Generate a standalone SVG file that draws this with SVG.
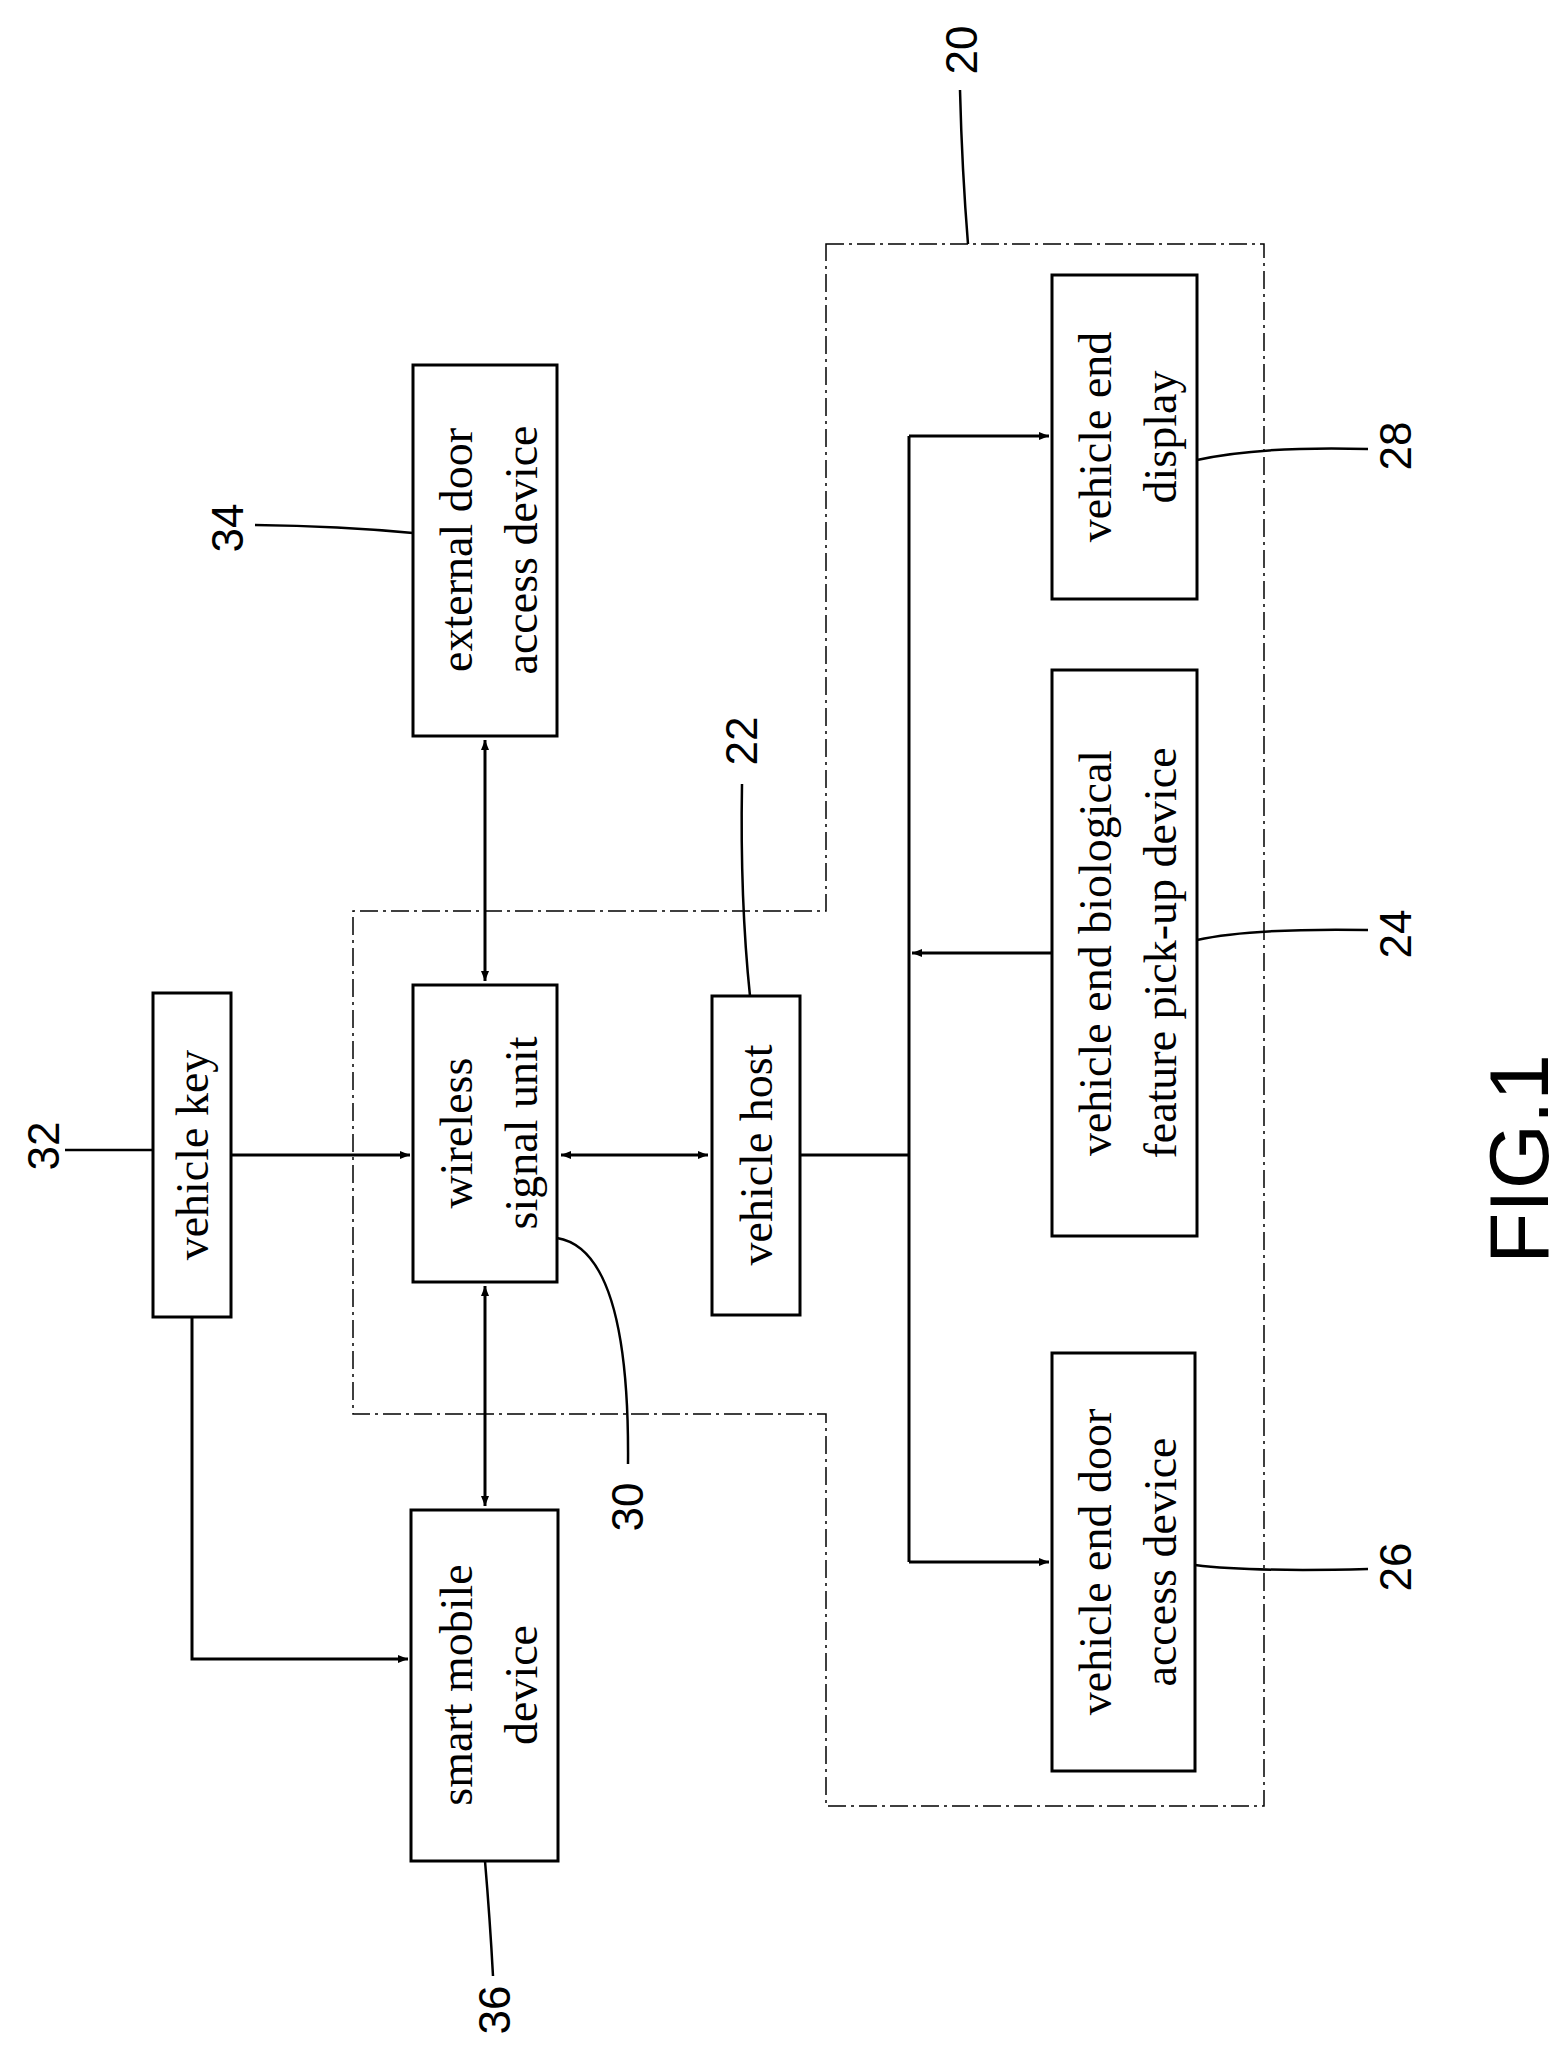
<svg xmlns="http://www.w3.org/2000/svg" width="1568" height="2056" viewBox="0 0 1568 2056">
<style>
.b{fill:#fff;stroke:#000;stroke-width:3}
.t{font-family:"Liberation Serif",serif;font-size:46px;text-anchor:middle}
.n{font-family:"Liberation Sans",sans-serif;font-size:44px;text-anchor:middle}
.c{fill:none;stroke:#000;stroke-width:3}
.l{fill:none;stroke:#000;stroke-width:2.5}
</style>
<defs>
<marker id="a" viewBox="0 0 10 10" refX="10" refY="5" markerWidth="10" markerHeight="10" markerUnits="userSpaceOnUse" orient="auto-start-reverse"><path d="M0,1 L10,5 L0,9 Z" fill="#000"/></marker>
</defs>
<path d="M826,244 H1264 V1806 H826 V1414 H353 V911 H826 Z" fill="none" stroke="#000" stroke-width="1.5" stroke-dasharray="18,5,3,5"/>
<g id="connectors">
<path class="c" d="M485,740 V981" marker-start="url(#a)" marker-end="url(#a)" style="marker-start:url(#a)"/>
<path class="c" d="M485,1286 V1506" marker-start="url(#a)" marker-end="url(#a)"/>
<path class="c" d="M231,1155 H410" marker-end="url(#a)"/>
<path class="c" d="M561,1155 H708" marker-start="url(#a)" marker-end="url(#a)"/>
<path class="c" d="M800,1155 H909"/>
<path class="c" d="M909,436 V1562"/>
<path class="c" d="M909,436 H1049" marker-end="url(#a)"/>
<path class="c" d="M1052,953 H912" marker-end="url(#a)"/>
<path class="c" d="M909,1562 H1049" marker-end="url(#a)"/>
<path class="c" d="M192,1317 V1659 H408" marker-end="url(#a)"/>
</g>
<g id="n34"><rect class="b" x="413" y="365" width="144" height="371"/><g transform="translate(485,550) rotate(-90)"><text class="t" y="-13">external door</text><text class="t" y="52">access device</text></g></g>
<g id="n28"><rect class="b" x="1052" y="275" width="145" height="324"/><g transform="translate(1124,437) rotate(-90)"><text class="t" y="-13">vehicle end</text><text class="t" y="52">display</text></g></g>
<g id="n24"><rect class="b" x="1052" y="670" width="145" height="566"/><g transform="translate(1124,953) rotate(-90)"><text class="t" y="-13">vehicle end biological</text><text class="t" y="52">feature pick-up device</text></g></g>
<g id="n26"><rect class="b" x="1052" y="1353" width="143" height="418"/><g transform="translate(1124,1562) rotate(-90)"><text class="t" y="-13">vehicle end door</text><text class="t" y="52">access device</text></g></g>
<g id="n36"><rect class="b" x="411" y="1510" width="147" height="351"/><g transform="translate(485,1685) rotate(-90)"><text class="t" y="-13">smart mobile</text><text class="t" y="52">device</text></g></g>
<g id="n32"><rect class="b" x="153" y="993" width="78" height="324"/><g transform="translate(192,1155) rotate(-90)"><text class="t" y="16">vehicle key</text></g></g>
<g id="n30"><rect class="b" x="413" y="985" width="144" height="297"/><g transform="translate(485,1133) rotate(-90)"><text class="t" y="-13">wireless</text><text class="t" y="52">signal unit</text></g></g>
<g id="n22"><rect class="b" x="712" y="996" width="88" height="319"/><g transform="translate(756,1155) rotate(-90)"><text class="t" y="16">vehicle host</text></g></g>
<g id="labels">
<path class="l" d="M960,90 Q962,170 968,244"/>
<path class="l" d="M255,525 Q340,526 413,533"/>
<path class="l" d="M742,784 Q740,900 750,996"/>
<path class="l" d="M1197,460 Q1260,446 1368,449"/>
<path class="l" d="M1197,940 Q1250,928 1368,930"/>
<path class="l" d="M65,1150 H153"/>
<path class="l" d="M557,1238 Q630,1250 628,1464"/>
<path class="l" d="M1195,1565 Q1250,1572 1368,1569"/>
<path class="l" d="M485,1861 Q490,1920 493,1976"/>
<g transform="translate(962,50) rotate(-90)"><text class="n" y="15">20</text></g>
<g transform="translate(228,528) rotate(-90)"><text class="n" y="15">34</text></g>
<g transform="translate(742,741) rotate(-90)"><text class="n" y="15">22</text></g>
<g transform="translate(1396,446) rotate(-90)"><text class="n" y="15">28</text></g>
<g transform="translate(1396,934) rotate(-90)"><text class="n" y="15">24</text></g>
<g transform="translate(44,1146) rotate(-90)"><text class="n" y="15">32</text></g>
<g transform="translate(628,1507) rotate(-90)"><text class="n" y="15">30</text></g>
<g transform="translate(1396,1567) rotate(-90)"><text class="n" y="15">26</text></g>
<g transform="translate(495,2010) rotate(-90)"><text class="n" y="15">36</text></g>
<g transform="translate(1518,1159) rotate(-90)"><text class="n" y="30" style="font-size:84px">FIG.1</text></g>
</g>
</svg>
